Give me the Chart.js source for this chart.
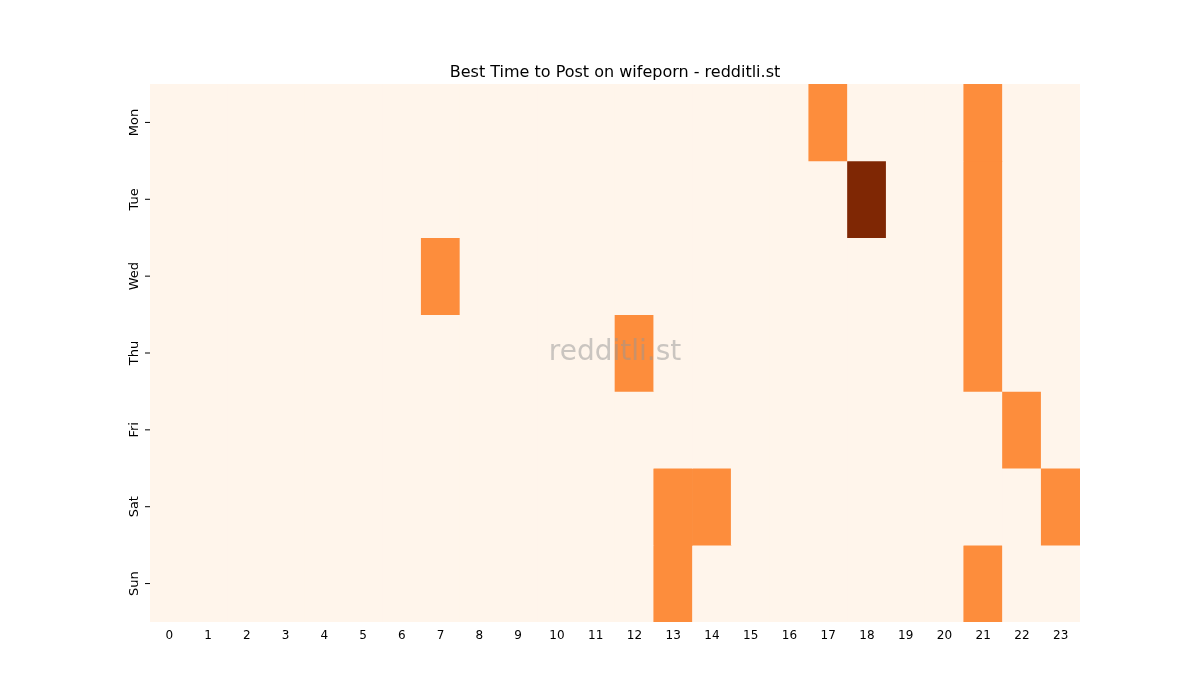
<!DOCTYPE html>
<html><head><meta charset="utf-8">
<script src="https://cdn.jsdelivr.net/npm/chart.js@4/dist/chart.umd.min.js"></script>
<style>body{margin:0;background:#fff}#w{width:1200px;height:700px}</style>
</head><body><div id="w"><canvas id="c"></canvas></div>
<script>
const hours = Array.from({length:24},(_,i)=>String(i));
const days = ['Mon','Tue','Wed','Thu','Fri','Sat','Sun'];
const Mon = [0,0,0,0,0,0,0,0,0,0,0,0,0,0,0,0,0,1,0,0,0,1,0,0];
const Tue = [0,0,0,0,0,0,0,0,0,0,0,0,0,0,0,0,0,0,2,0,0,1,0,0];
const Wed = [0,0,0,0,0,0,0,1,0,0,0,0,0,0,0,0,0,0,0,0,0,1,0,0];
const Thu = [0,0,0,0,0,0,0,0,0,0,0,0,1,0,0,0,0,0,0,0,0,1,0,0];
const Fri = [0,0,0,0,0,0,0,0,0,0,0,0,0,0,0,0,0,0,0,0,0,0,1,0];
const Sat = [0,0,0,0,0,0,0,0,0,0,0,0,0,1,1,0,0,0,0,0,0,0,0,1];
const Sun = [0,0,0,0,0,0,0,0,0,0,0,0,0,1,0,0,0,0,0,0,0,1,0,0];
const rows = [Mon,Tue,Wed,Thu,Fri,Sat,Sun];
const colors = ['#fff5eb','#fd8d3c','#7f2704'];
const datasets = rows.map((r,i)=>({
  label: days[i],
  data: r.map(()=>[i,i+1]),
  backgroundColor: r.map(v=>colors[v]),
  borderWidth:0, barPercentage:1, categoryPercentage:1, grouped:false
}));
const F = 'DejaVu Sans';
const deco = {
  id:'deco',
  afterDraw(ch){
    const c=ch.ctx, y=ch.scales.y, a=ch.chartArea;
    c.save();
    c.fillStyle='#000'; c.font='13px '+F; c.textAlign='center'; c.textBaseline='bottom';
    days.forEach((d,i)=>{
      const p=y.getPixelForValue(i+0.5);
      c.strokeStyle='#000'; c.lineWidth=1;
      c.beginPath(); c.moveTo(a.left-5,p); c.lineTo(a.left,p); c.stroke();
      c.save(); c.translate(a.left-9,p); c.rotate(-Math.PI/2); c.fillText(d,0,0); c.restore();
    });
    c.font='16px '+F; c.textBaseline='alphabetic';
    c.fillText('Best Time to Post on wifeporn - redditli.st',(a.left+a.right)/2,a.top-7);
    c.font='28px '+F; c.textBaseline='middle'; c.fillStyle='rgba(150,150,150,0.5)';
    c.fillText('redditli.st',(a.left+a.right)/2,(a.top+a.bottom)/2);
    c.restore();
  }
};
new Chart(document.getElementById('c'),{
  type:'bar',
  data:{labels:hours,datasets},
  options:{
    responsive:true,maintainAspectRatio:false,animation:false,
    layout:{padding:{left:120,right:120,top:84,bottom:48}},
    plugins:{legend:{display:false},tooltip:{enabled:false}},
    scales:{
      x:{grid:{display:false,drawTicks:true,tickLength:5,color:'#000'},border:{display:false},
         ticks:{color:'#000',font:{family:F,size:12},maxRotation:0,autoSkip:false,padding:2},
         afterFit(s){s.height=30;}},
      y:{min:0,max:7,reverse:true,grid:{display:false},border:{display:false},
         ticks:{display:false},afterFit(s){s.width=30;}}
    }
  },
  plugins:[deco]
});
</script></body></html>
